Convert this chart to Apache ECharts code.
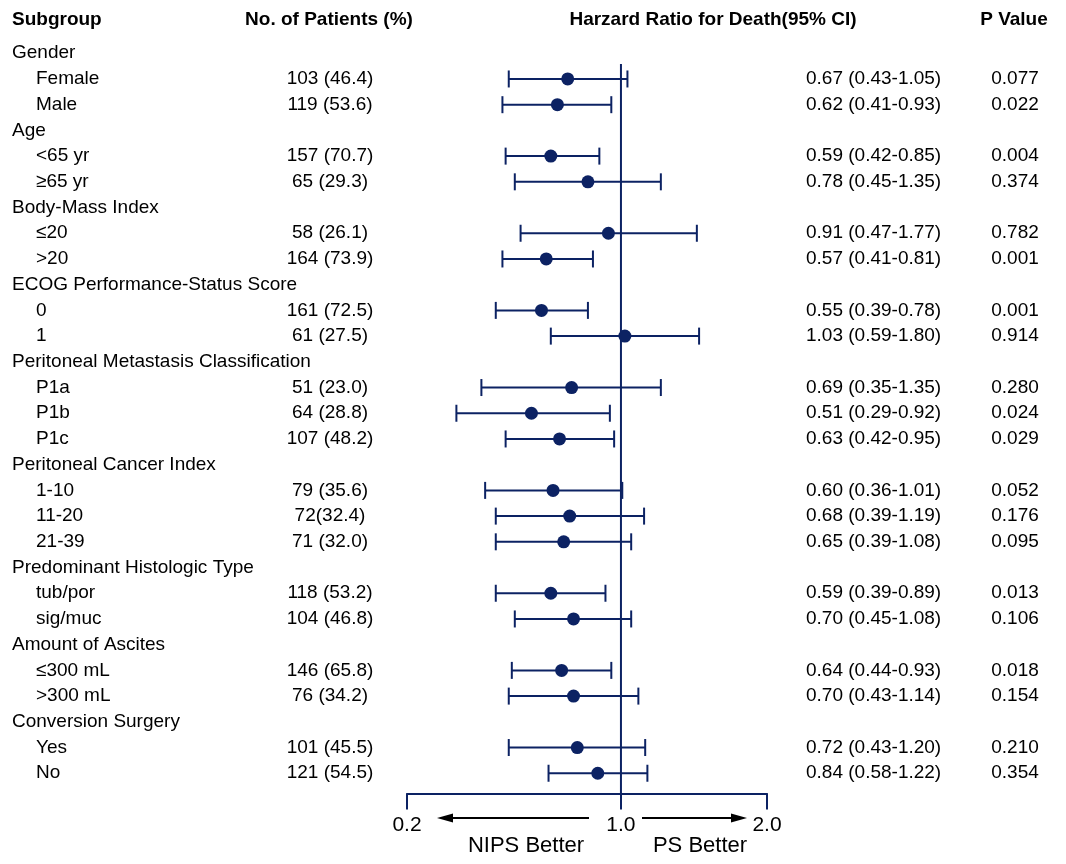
<!DOCTYPE html>
<html lang="en">
<head>
  <meta charset="UTF-8">
  <title>Subgroup forest plot</title>
  <script src="https://cdn.jsdelivr.net/npm/echarts@6/dist/echarts.min.js"></script>
</head>
<body style="margin: 0;">
<div id="main" style="width: 1066px; height: 864px;"></div>
<script type="text/javascript">
  // rows of the table, top to bottom (rows without a hazard ratio are group headers)
  const rows = ['Gender', 'Female', 'Male', 'Age', '<65 yr', '≥65 yr', 'Body-Mass Index', '≤20', '>20',
    'ECOG Performance-Status Score', '0', '1', 'Peritoneal Metastasis Classification', 'P1a', 'P1b', 'P1c',
    'Peritoneal Cancer Index', '1-10', '11-20', '21-39', 'Predominant Histologic Type', 'tub/por', 'sig/muc',
    'Amount of Ascites', '≤300 mL', '>300 mL', 'Conversion Surgery', 'Yes', 'No']
  const patients = ['', '103 (46.4)', '119 (53.6)', '', '157 (70.7)', '65 (29.3)', '', '58 (26.1)', '164 (73.9)',
    '', '161 (72.5)', '61 (27.5)', '', '51 (23.0)', '64 (28.8)', '107 (48.2)',
    '', '79 (35.6)', '72(32.4)', '71 (32.0)', '', '118 (53.2)', '104 (46.8)',
    '', '146 (65.8)', '76 (34.2)', '', '101 (45.5)', '121 (54.5)']
  const hr = [null, 0.67, 0.62, null, 0.59, 0.78, null, 0.91, 0.57,
    null, 0.55, 1.03, null, 0.69, 0.51, 0.63,
    null, 0.60, 0.68, 0.65, null, 0.59, 0.70,
    null, 0.64, 0.70, null, 0.72, 0.84]
  const ciLow = [null, 0.43, 0.41, null, 0.42, 0.45, null, 0.47, 0.41,
    null, 0.39, 0.59, null, 0.35, 0.29, 0.42,
    null, 0.36, 0.39, 0.39, null, 0.39, 0.45,
    null, 0.44, 0.43, null, 0.43, 0.58]
  const ciHigh = [null, 1.05, 0.93, null, 0.85, 1.35, null, 1.77, 0.81,
    null, 0.78, 1.80, null, 1.35, 0.92, 0.95,
    null, 1.01, 1.19, 1.08, null, 0.89, 1.08,
    null, 0.93, 1.14, null, 1.20, 1.22]
  const pValues = ['', '0.077', '0.022', '', '0.004', '0.374', '', '0.782', '0.001',
    '', '0.001', '0.914', '', '0.280', '0.024', '0.029',
    '', '0.052', '0.176', '0.095', '', '0.013', '0.106',
    '', '0.018', '0.154', '', '0.210', '0.354']
  // the right-hand tick of the original sits at 3 on the log scale but is labelled 2.0
  const tickValues = [0.2, 1, 3]
  const tickLabels = ['0.2', '1.0', '2.0']

  const navy = '#0c2263'
  const font = '"Liberation Sans", Arial, sans-serif'
  const gridTop = 40.4
  const gridHeight = 745.7
  const axisOffset = 7.4

  const myChart = echarts.init(document.getElementById('main'))

  const isItem = i => hr[i] != null
  const idx = rows.map((r, i) => i)
  const itemIdx = idx.filter(isItem)
  const headIdx = idx.filter(i => !isItem(i))

  // text columns: each one is a thin grid that shares the row axis
  const textCols = [
    {left: 12},   // subgroup
    {left: 330},  // patients
    {left: 806},  // hazard ratio text
    {left: 1015}  // p value
  ]
  const grids = [{left: 407, width: 360, top: gridTop, height: gridHeight}]
  const xAxes = [{
    type: 'log', gridIndex: 0, logBase: 10, min: tickValues[0], max: tickValues[tickValues.length - 1],
    offset: axisOffset,
    splitLine: {show: false},
    axisLine: {show: true, lineStyle: {color: navy, width: 2}},
    axisTick: {show: true, length: 16, lineStyle: {color: navy, width: 2}},
    axisLabel: {
      margin: 21, color: '#000', fontSize: 21, fontFamily: font,
      formatter: v => {
        let best = 0
        tickValues.forEach((t, k) => {
          if (Math.abs(Math.log(v / t)) < Math.abs(Math.log(v / tickValues[best]))) best = k
        })
        return tickLabels[best]
      }
    }
  }]
  const yAxes = [{type: 'category', gridIndex: 0, data: rows, inverse: true, show: false}]
  textCols.forEach((c, k) => {
    grids.push({left: c.left, width: 10, top: gridTop, height: gridHeight})
    xAxes.push({type: 'value', gridIndex: k + 1, min: 0, max: 1, show: false})
    yAxes.push({type: 'category', gridIndex: k + 1, data: rows, inverse: true, show: false})
  })

  const textSeries = (grid, list, textOf, position, offset) => ({
    type: 'scatter', xAxisIndex: grid, yAxisIndex: grid, symbolSize: 0, clip: false, silent: true,
    itemStyle: {opacity: 1},
    data: list.map(i => ({value: [0, i], name: textOf(i)})),
    label: {
      show: true, formatter: '{b}', position: position, distance: 0, offset: offset || [0, 0],
      color: '#000', opacity: 1, fontSize: 19, fontFamily: font
    }
  })

  const option = {
    animation: false,
    backgroundColor: '#fff',
    grid: grids,
    xAxis: xAxes,
    yAxis: yAxes,
    graphic: [
      {type: 'text', x: 12, y: 20, style: {text: 'Subgroup', fill: '#000', font: 'bold 19px ' + font, textAlign: 'left', textVerticalAlign: 'middle'}},
      {type: 'text', x: 329, y: 20, style: {text: 'No. of Patients (%)', fill: '#000', font: 'bold 19px ' + font, textAlign: 'center', textVerticalAlign: 'middle'}},
      {type: 'text', x: 713, y: 20, style: {text: 'Harzard Ratio for Death(95% CI)', fill: '#000', font: 'bold 19px ' + font, textAlign: 'center', textVerticalAlign: 'middle'}},
      {type: 'text', x: 1014, y: 20, style: {text: 'P Value', fill: '#000', font: 'bold 19px ' + font, textAlign: 'center', textVerticalAlign: 'middle'}},
      // direction arrows under the axis
      {type: 'line', shape: {x1: 589, y1: 818, x2: 450, y2: 818}, style: {stroke: '#000', lineWidth: 2}},
      {type: 'polygon', shape: {points: [[437, 818], [453, 813.5], [453, 822.5]]}, style: {fill: '#000'}},
      {type: 'line', shape: {x1: 642, y1: 818, x2: 734, y2: 818}, style: {stroke: '#000', lineWidth: 2}},
      {type: 'polygon', shape: {points: [[747, 818], [731, 813.5], [731, 822.5]]}, style: {fill: '#000'}},
      {type: 'text', x: 526, y: 846, style: {text: 'NIPS Better', fill: '#000', font: '22px ' + font, textAlign: 'center', textVerticalAlign: 'middle'}},
      {type: 'text', x: 700, y: 846, style: {text: 'PS Better', fill: '#000', font: '22px ' + font, textAlign: 'center', textVerticalAlign: 'middle'}}
    ],
    series: [
      // reference line at HR = 1
      {
        type: 'custom', xAxisIndex: 0, yAxisIndex: 0, clip: false, silent: true,
        data: [[1, itemIdx[0]]],
        renderItem: (params, api) => {
          const p = api.coord([api.value(0), api.value(1)])
          const band = api.size([0, 1], [1, 1])[1]
          const cs = params.coordSys
          return {
            type: 'line',
            shape: {x1: p[0], y1: p[1] - band * 0.58, x2: p[0], y2: cs.y + cs.height + axisOffset},
            style: {stroke: navy, lineWidth: 2}
          }
        }
      },
      // 95% CI whiskers
      {
        type: 'custom', xAxisIndex: 0, yAxisIndex: 0, clip: false, silent: true,
        data: itemIdx.map(i => [ciLow[i], ciHigh[i], i]),
        encode: {x: [0, 1], y: 2},
        renderItem: (params, api) => {
          const a = api.coord([api.value(0), api.value(2)])
          const b = api.coord([api.value(1), api.value(2)])
          const cap = 8.5
          const st = {stroke: navy, lineWidth: 2}
          return {
            type: 'group', children: [
              {type: 'line', shape: {x1: a[0], y1: a[1], x2: b[0], y2: b[1]}, style: st},
              {type: 'line', shape: {x1: a[0], y1: a[1] - cap, x2: a[0], y2: a[1] + cap}, style: st},
              {type: 'line', shape: {x1: b[0], y1: b[1] - cap, x2: b[0], y2: b[1] + cap}, style: st}
            ]
          }
        }
      },
      {
        type: 'scatter', xAxisIndex: 0, yAxisIndex: 0, symbolSize: 13, z: 5, silent: true,
        itemStyle: {color: navy, opacity: 1},
        data: itemIdx.map(i => [hr[i], i])
      },
      textSeries(1, headIdx, i => rows[i], 'right'),
      textSeries(1, itemIdx, i => rows[i], 'right', [24, 0]),
      textSeries(2, itemIdx, i => patients[i], 'inside'),
      textSeries(3, itemIdx, i => hr[i].toFixed(2) + ' (' + ciLow[i].toFixed(2) + '-' + ciHigh[i].toFixed(2) + ')', 'right'),
      textSeries(4, itemIdx, i => pValues[i], 'inside')
    ]
  }

  myChart.setOption(option)
</script>
</body>
</html>
